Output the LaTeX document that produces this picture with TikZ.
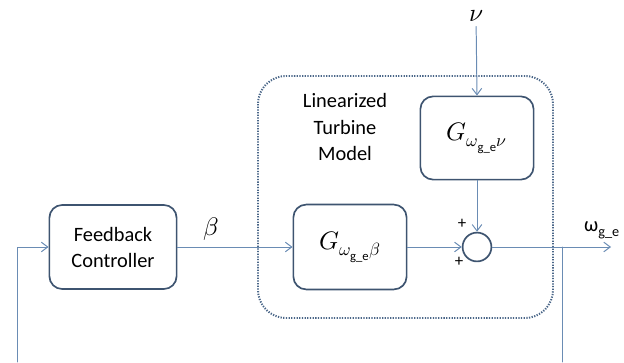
\documentclass[tikz,border=0pt]{standalone}
\usepackage{amsmath}
\usepackage{fontspec}
\usepackage{unicode-math}
\setmainfont{Carlito}
\usetikzlibrary{arrows.meta}
\definecolor{boxline}{HTML}{3E5470}
\definecolor{sigline}{HTML}{6A8CB4}
\definecolor{dotline}{HTML}{4A6688}
\begin{document}
\begin{tikzpicture}[x=0.025cm, y=-0.025cm, >={Straight Barb[length=1.6mm,width=2.4mm]}, line cap=round, line join=round, font=\fontsize{14.5}{18.5}\selectfont,
		block/.style={draw=boxline, line width=1.2pt, rounded corners=0.32cm, minimum width=#1, align=center},
		mathtext/.style={font=\fontsize{18}{20}\selectfont},
		sig/.style={draw=sigline, line width=0.7pt},
		sumnode/.style={circle, draw=boxline, line width=1.2pt, minimum size=0.72cm, inner sep=0pt}]
	\useasboundingbox (0,0) rectangle (624,362);
	% turbine model frame
	\draw[dotline, line width=1.4pt, dash pattern=on 0.9pt off 1pt, line cap=butt, rounded corners=0.7cm] (258,76) rectangle (553,318);
	\node[align=center] (lbl) at (345,127) {Linearized\\Turbine\\Model};
	% blocks
	\node[block=3.18cm, minimum height=2.1cm] (fc) at (113,247) {Feedback\\Controller};
	\node[block=2.83cm, minimum height=2.12cm, mathtext] (gb) at (350,247) {$G_{\omega_{\text{g\_e}}\beta}$};
	\node[block=2.83cm, minimum height=2.08cm, mathtext] (gn) at (477,138) {$G_{\omega_{\text{g\_e}}\nu}$};
	\node[sumnode] (sum) at (477,247) {};
	% signals
	\node[mathtext] (nu) at (476,16) {$\nu$};
	\coordinate (out) at (611,247);
	\coordinate (tap) at (562,247);
	\coordinate (rb) at (562,362);
	\coordinate (lb) at (17,362);
	\draw[sig,->] (nu) -- (gn.north);
	\draw[sig,->] (gn.south) -- (sum.north);
	\draw[sig,->] (fc.east) -- node[pos=0.29, above=1pt, mathtext]{$\beta$} (gb.west);
	\draw[sig,->] (gb.east) -- (sum.west);
	\draw[sig,->] (sum.east) -- (out);
	\draw[sig] (tap) -- (rb);
	\draw[sig,->] (lb) |- (fc.west);
	\node (om) at (602,230) {ω\textsubscript{g\_e}};
	\node[font=\large] (p1) at (462,224) {+};
	\node[font=\large] (p2) at (459,262) {+};
\end{tikzpicture}
\end{document}
